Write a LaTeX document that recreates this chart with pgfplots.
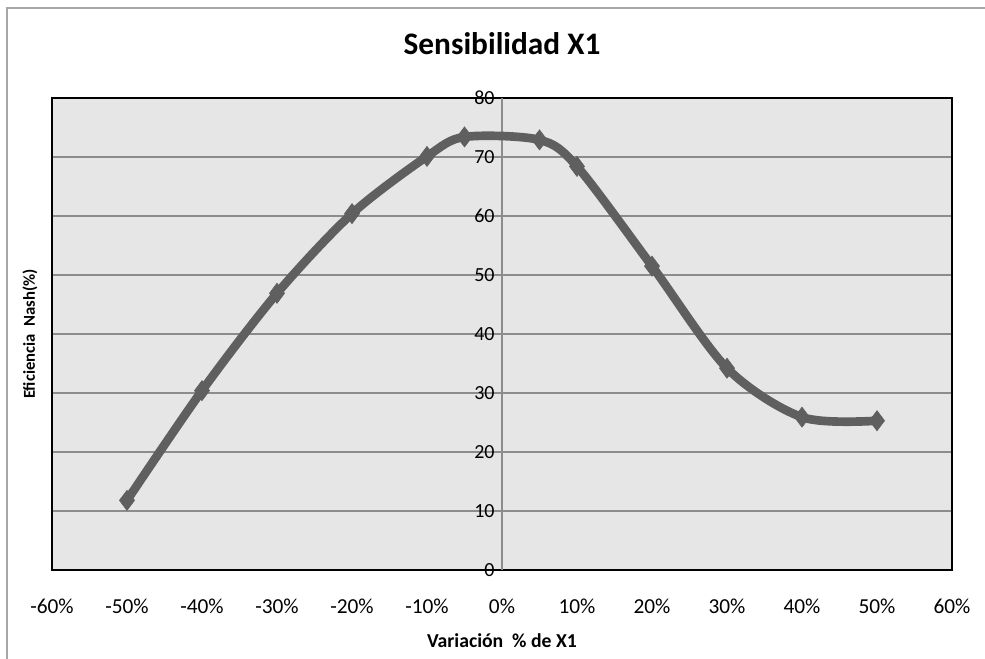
\documentclass[border=0pt]{standalone}
\usepackage{pgfplots}
\pgfplotsset{compat=1.18}
\usepackage{fontspec}
\setmainfont{Carlito}
\definecolor{plotbg}{HTML}{E6E6E6}
\definecolor{gridc}{HTML}{8C8C8C}
\definecolor{linec}{HTML}{5F5F5F}
\begin{document}
\begin{tikzpicture}
\useasboundingbox (0pt,0pt) rectangle (738.75pt,494.25pt);
\draw[gray!70, line width=0.8pt] (5.25pt,0pt) -- (5.25pt,488.25pt) -- (738.75pt,488.25pt);
% frame, background and horizontal grid
\begin{axis}[
  at={(39pt,66.75pt)}, anchor=south west,
  width=675pt, height=354pt, scale only axis,
  xmin=-0.6, xmax=0.6, ymin=0, ymax=80,
  axis background/.style={fill=plotbg},
  axis line style={black, line width=0.8pt},
  ytick={0,10,...,80}, yticklabels={},
  xtick={-0.6,-0.5,...,0.61},
  xticklabels={-60\%,-50\%,-40\%,-30\%,-20\%,-10\%,0\%,10\%,20\%,30\%,40\%,50\%,60\%},
  xticklabel style={font=\fontsize{16}{18}\selectfont, anchor=base, yshift=-33pt},
  major tick length=0pt,
  ymajorgrids, grid style={gridc, line width=0.8pt},
  title={\bfseries Sensibilidad X1},
  title style={font=\fontsize{23.5}{26}\selectfont, at={(0.5,1)}, anchor=base, yshift=27pt},
  xlabel={\bfseries Variación \ \% de X1},
  xlabel style={font=\fontsize{14.8}{16}\selectfont, at={(0.5,0)}, anchor=base, yshift=-58pt},
  ylabel={\bfseries Eficiencia \ Nash(\%)},
  ylabel style={font=\fontsize{12.5}{14}\selectfont, at={(0,0.5)}, anchor=center, yshift=16.5pt},
]
\end{axis}
% central vertical axis with its labels, then the series
\begin{axis}[
  at={(39pt,66.75pt)}, anchor=south west,
  width=675pt, height=354pt, scale only axis,
  xmin=-0.6, xmax=0.6, ymin=0, ymax=80,
  axis x line=none, axis y line=center,
  y axis line style={gridc, line width=0.8pt, -},
  ytick={0,10,...,80},
  major tick length=0pt,
  /pgf/number format/assume math mode=true,
  yticklabel style={font=\fontsize{15}{17}\selectfont, anchor=east, xshift=-2pt},
]
\addplot[linec, line width=6.5pt, smooth, tension=0.5,
  mark=diamond*, mark size=7.5pt, mark options={fill=linec, draw=linec, line width=0.5pt}]
  coordinates {
  (-0.50,11.8) (-0.40,30.4) (-0.30,46.9) (-0.20,60.4) (-0.10,70.1)
  (-0.05,73.4) (0.05,72.9) (0.10,68.4) (0.20,51.5) (0.30,34.2)
  (0.40,25.9) (0.50,25.3)
  };
\end{axis}
\end{tikzpicture}
\end{document}
